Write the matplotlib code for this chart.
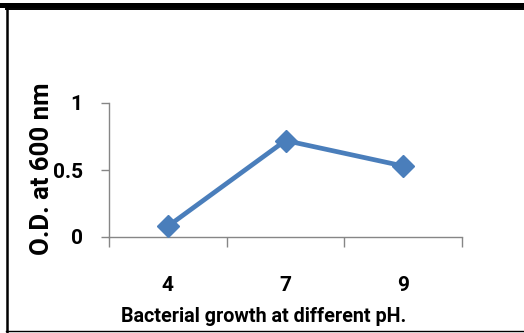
import matplotlib
matplotlib.use("Agg")
import matplotlib.pyplot as plt
from matplotlib.lines import Line2D

# Data
ph_labels = ["4", "7", "9"]
od_values = [0.08, 0.72, 0.53]
y_ticks = [0, 0.5, 1]
y_tick_labels = ["0", "0.5", "1"]

W, H = 524, 333
fig = plt.figure(figsize=(W / 100, H / 100), dpi=100)
fig.patch.set_facecolor("white")

font = ["Roboto", "DejaVu Sans"]
fs_tick = 15
fs_xtitle = 14.2
fs_ytitle = 18.5
axis_gray = "#868686"
line_blue = "#4A7EBB"

# plot area in pixel coordinates
x0, x1 = 109, 462
y_bot, y_top = 237, 103
ax = fig.add_axes([x0 / W, 1 - y_bot / H, (x1 - x0) / W, (y_bot - y_top) / H])
ax.set_facecolor("none")

xs = list(range(len(ph_labels)))
ax.plot(xs, od_values, color=line_blue, lw=3.4, marker="D", markersize=11,
        markerfacecolor=line_blue, markeredgecolor=line_blue, solid_capstyle="round",
        clip_on=False, zorder=3)

ax.set_xlim(-0.5, len(ph_labels) - 0.5)
ax.set_ylim(0, 1)

for side in ["top", "right"]:
    ax.spines[side].set_visible(False)
for side in ["left", "bottom"]:
    ax.spines[side].set_color(axis_gray)
    ax.spines[side].set_linewidth(1.0)

ax.set_yticks(y_ticks)
ax.set_yticklabels(y_tick_labels, fontsize=fs_tick, fontweight="bold", family=font)
ax.tick_params(axis="y", length=6, color=axis_gray, width=1.0, pad=13)

# category labels centred between boundary ticks
ax.set_xticks(xs)
ax.set_xticklabels(ph_labels, fontsize=fs_tick, fontweight="bold", family=font)
ax.tick_params(axis="x", length=0, pad=28)
ax.set_xticks([-0.5, 0.5, 1.5, 2.5], minor=True)
ax.tick_params(axis="x", which="minor", length=7, color=axis_gray, width=1.0)

ax.set_xlabel("Bacterial growth at different pH.", fontsize=fs_xtitle, fontweight="bold",
              family=font)
ax.set_ylabel("O.D. at 600 nm", fontsize=fs_ytitle, fontweight="bold", family=font)
ax.xaxis.set_label_coords((264 - x0) / (x1 - x0), -(307 - y_bot) / (y_bot - y_top))
ax.yaxis.set_label_coords(-(109 - 54) / (x1 - x0), (y_bot - 169) / (y_bot - y_top))

# surrounding frame lines
def hline(y, lw, xa=0, xb=W, color="black"):
    fig.add_artist(Line2D([xa / W, xb / W], [1 - y / H, 1 - y / H], lw=lw,
                          color=color, transform=fig.transFigure))

def vline(x, lw, ya=0, yb=H, color="black"):
    fig.add_artist(Line2D([x / W, x / W], [1 - ya / H, 1 - yb / H], lw=lw,
                          color=color, transform=fig.transFigure))

hline(5, 3.6)
hline(9, 1.4, xa=6)
vline(7, 1.8, ya=8, yb=333)
hline(331, 1.0, xa=6)

fig.savefig("out.png", dpi=100, facecolor="white")
